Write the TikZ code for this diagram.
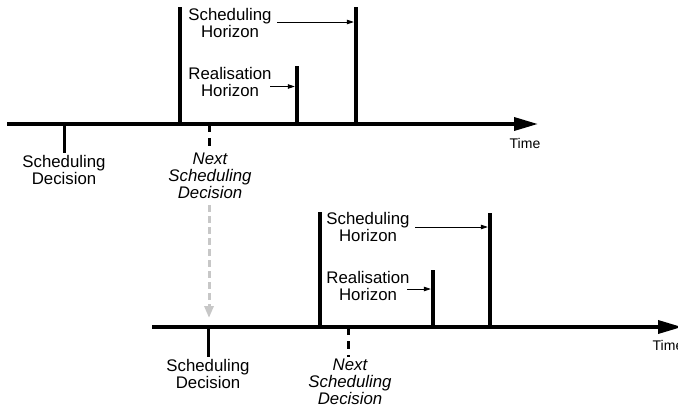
\documentclass[tikz,border=0pt]{standalone}
\usepackage{fontspec}
\setmainfont{Liberation Sans}
\usetikzlibrary{arrows.meta}
\tikzset{
  timeline/.style={line width=3.5pt, -{Triangle[length=24pt,width=13pt]}},
  bar/.style={line width=4.5pt},
  tick/.style={line width=3pt},
  nexttick/.style={line width=3pt, dash pattern=on 8pt off 6pt},
  harrow/.style={line width=0.8pt, -{Triangle[length=7pt,width=4.5pt]}, shorten >=2.2pt},
  lbl/.style={align=center, inner sep=2pt, font=\fontsize{16.8}{17}\selectfont},
  nextlbl/.style={lbl, font=\fontsize{16.8}{17}\selectfont\itshape},
  timelbl/.style={inner sep=0pt, font=\fontsize{14}{15}\selectfont},
  flow/.style={line width=3pt, draw=black!22, dash pattern=on 7pt off 4pt,
    -{Triangle[length=12pt,width=9pt,fill=black!22]}}
}
\begin{document}
\begin{tikzpicture}[x=1pt,y=-1pt]
\useasboundingbox (0,0) rectangle (678,407);
\clip (0,0) rectangle (678,407);

% ---------- first schedule ----------
\coordinate (aL) at (7,124);
\coordinate (aR) at (538,124);
\coordinate (aD) at (64,124);
\coordinate (aN) at (209,124);
\coordinate (aS) at (180,124);
\coordinate (aSt) at (180,7);
\coordinate (aR1) at (297,124);
\coordinate (aR1t) at (297,66);
\coordinate (aH) at (356,124);
\coordinate (aHt) at (356,7);

\draw[timeline] (aL) -- (aR);
\node[timelbl] (aTime) at (525,143) {Time};

\node[lbl] (aDl) at (64,169.5) {Scheduling\\Decision};
\node[nextlbl] (aNl) at (210,176) {Next\\Scheduling\\Decision};
\draw[tick] (aD) -- (aD |- aDl.north);
\draw[nexttick] (aN) -- (aN |- aNl.north);

\draw[bar] (aS) -- (aSt);
\draw[bar] (aR1) -- (aR1t);
\draw[bar] (aH) -- (aHt);

\node[lbl] (aSHl) at (230,22.5) {Scheduling\\Horizon};
\node[lbl] (aRHl) at (230,81.5) {Realisation\\Horizon};
\coordinate (aSHa) at (277,22);
\coordinate (aRHa) at (270,86.5);
\draw[harrow] (aSHa) -- (aSHa -| aHt);
\draw[harrow] (aRHa) -- (aRHa -| aR1t);

% ---------- second schedule ----------
\coordinate (bL) at (152,327);
\coordinate (bR) at (682,327);
\coordinate (bD) at (208,327);
\coordinate (bN) at (348,327);
\coordinate (bS) at (320,327);
\coordinate (bSt) at (320,212);
\coordinate (bR1) at (433,327);
\coordinate (bR1t) at (433,270);
\coordinate (bH) at (490,327);
\coordinate (bHt) at (490,213);

\draw[timeline] (bL) -- (bR);
\node[timelbl] (bTime) at (668,345.5) {Time};

\node[lbl] (bDl) at (208,373.5) {Scheduling\\Decision};
\node[nextlbl] (bNl) at (350,382) {Next\\Scheduling\\Decision};
\draw[tick] (bD) -- (bD |- bDl.north);
\draw[nexttick] (bN) -- (bN |- bNl.north);

\draw[bar] (bS) -- (bSt);
\draw[bar] (bR1) -- (bR1t);
\draw[bar] (bH) -- (bHt);

\node[lbl] (bSHl) at (368,227) {Scheduling\\Horizon};
\node[lbl] (bRHl) at (368,286) {Realisation\\Horizon};
\coordinate (bSHa) at (415,227);
\coordinate (bRHa) at (407,289);
\draw[harrow] (bSHa) -- (bSHa -| bHt);
\draw[harrow] (bRHa) -- (bRHa -| bR1t);

% ---------- the next decision becomes the current one ----------
\coordinate (flowEnd) at (209,318);
\draw[flow] (aNl.south -| aN) ++(0,4) -- (flowEnd);
\end{tikzpicture}
\end{document}
